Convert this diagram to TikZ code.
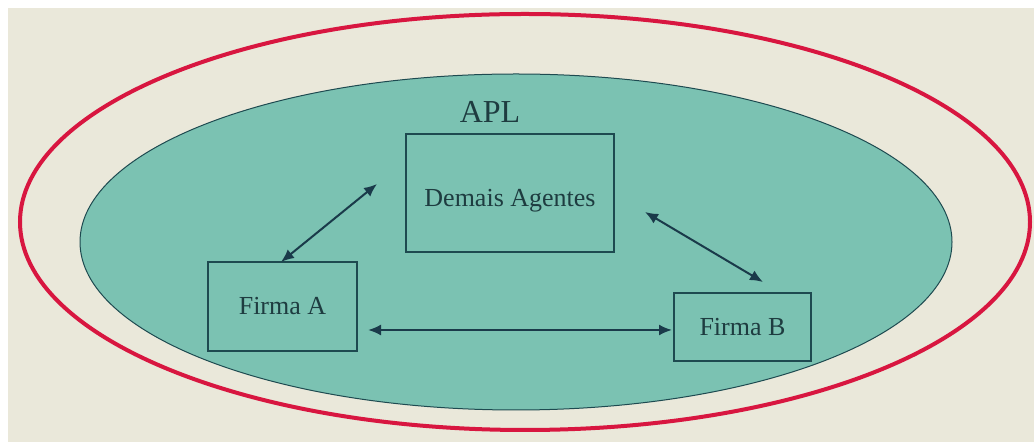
\documentclass[tikz,border=0pt]{standalone}
\usepackage{fontspec}
\setmainfont{Liberation Serif}
\usetikzlibrary{arrows.meta,shapes.geometric}
\definecolor{bg}{HTML}{EAE8DA}
\definecolor{redring}{HTML}{D81640}
\definecolor{tealfill}{HTML}{7BC2B2}
\definecolor{boxline}{HTML}{1E4A50}
\definecolor{arrowc}{HTML}{1A3A4A}
\definecolor{textc}{HTML}{1E3C40}
\tikzset{
  agentbox/.style={draw=boxline, line width=0.75pt, inner sep=0pt, font=\fontsize{13}{15}\selectfont, text=textc},
  link/.style={draw=arrowc, line width=1pt, {Latex[length=6.5pt,width=5.5pt]}-{Latex[length=6.5pt,width=5.5pt]}}
}
\begin{document}
\begin{tikzpicture}[x=0.5pt,y=-0.5pt]
\useasboundingbox (0,0) rectangle (1034,442);
\fill[white] (0,0) rectangle (1034,442);
\fill[bg] (8,8) rectangle (1034,442);
\node[draw=redring, line width=2pt, ellipse, minimum width=505pt, minimum height=208pt, inner sep=0pt] (outer) at (525,222) {};
\node[draw=boxline, fill=tealfill, line width=0.5pt, ellipse, minimum width=436pt, minimum height=168pt, inner sep=0pt] (apl) at (516,242) {};
\node[text=textc, font=\fontsize{16}{18}\selectfont] (apltext) at (490,112) {APL};
\node[agentbox, minimum width=104pt, minimum height=59pt, text height=16.5pt, text depth=2.8pt] (demais) at (510,193) {Demais Agentes};
\node[agentbox, minimum width=74.5pt, minimum height=44.5pt] (firmaA) at (282.5,306.5) {Firma A};
\node[agentbox, minimum width=68.5pt, minimum height=34pt] (firmaB) at (742.5,327) {Firma B};
\coordinate (d1) at (377,184);
\coordinate (a1) at (281,262);
\coordinate (a2) at (368,330);
\coordinate (b2) at (672,330);
\coordinate (d3) at (645,212);
\coordinate (b3) at (763,282);
\draw[link] (d1) -- (a1);
\draw[link] (a2) -- (b2);
\draw[link] (d3) -- (b3);
\end{tikzpicture}
\end{document}
